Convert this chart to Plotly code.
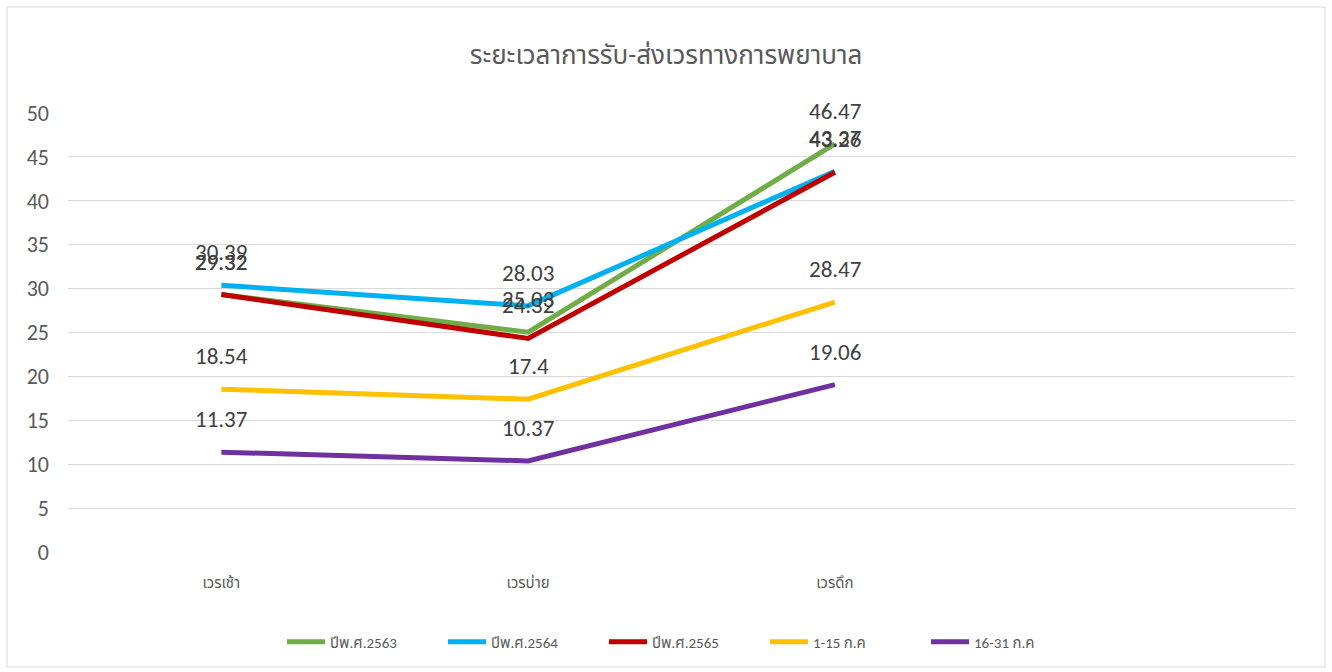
import plotly.graph_objects as go

categories = ["เวรเช้า", "เวรบ่าย", "เวรดึก"]
series_names = ["ปีพ.ศ.2563", "ปีพ.ศ.2564", "ปีพ.ศ.2565", "1-15 ก.ค", "16-31 ก.ค"]
v2563 = [29.32, 25.03, 46.47]
v2564 = [30.39, 28.03, 43.37]
v2565 = [29.32, 24.32, 43.26]
v_jul1 = [18.54, 17.4, 28.47]
v_jul2 = [11.37, 10.37, 19.06]
colors = ["#70AD47", "#00B0F0", "#C00000", "#FFC000", "#7030A0"]
y_ticks = [0, 5, 10, 15, 20, 25, 30, 35, 40, 45, 50]

all_values = [v2563, v2564, v2565, v_jul1, v_jul2]

FONT = "Calibri, Carlito, 'Liberation Sans', 'Noto Sans Thai', 'Noto Sans', sans-serif"

fig = go.Figure()
for name, vals, col in zip(series_names, all_values, colors):
    fig.add_trace(go.Scatter(
        x=categories, y=vals, name=name, mode="lines",
        line=dict(color=col, width=5),
    ))

annotations = []
for vals in all_values:
    for c, v in zip(categories, vals):
        annotations.append(dict(
            x=c, y=v, xref="x", yref="y", text=str(v), showarrow=False,
            yshift=33, font=dict(size=23, color="#404040", family=FONT),
        ))

fig.update_layout(
    width=1332, height=672,
    paper_bgcolor="white", plot_bgcolor="white",
    margin=dict(l=68, r=37, t=113, b=120),
    title=dict(text="ระยะเวลาการรับ-ส่งเวรทางการพยาบาล", x=0.5, xanchor="center",
               y=0.918, yanchor="middle",
               font=dict(size=26, color="#595959", family=FONT)),
    xaxis=dict(type="category", categoryorder="array", categoryarray=categories,
               range=[-0.5, 3.5], showgrid=False, showline=False, zeroline=False,
               ticks="", tickfont=dict(size=15, color="#595959", family=FONT),
               ticklabelstandoff=20),
    yaxis=dict(range=[0, 50], tickvals=y_ticks, showgrid=True, gridcolor="#D9D9D9",
               gridwidth=1, zeroline=False, showline=False, ticks="",
               tickfont=dict(size=22, color="#595959", family=FONT),
               ticklabelstandoff=18),
    legend=dict(orientation="h", x=(282 - 68) / 1227, xanchor="left", y=-0.205, yanchor="middle",
                font=dict(size=15, color="#595959", family=FONT),
                itemwidth=38, tracegroupgap=0,
                entrywidth=108, entrywidthmode="pixels"),
    annotations=annotations,
    shapes=[dict(type="rect", xref="paper", yref="paper",
                 x0=(7 - 68) / 1227, x1=(1325 - 68) / 1227,
                 y0=(552 - 667) / 439, y1=(552 - 7) / 439,
                 line=dict(color="#D9D9D9", width=1), layer="below")],
)

fig.write_html("out.html", config={"displayModeBar": False},
               post_script="document.body.style.margin='0';document.body.style.overflow='hidden';")
